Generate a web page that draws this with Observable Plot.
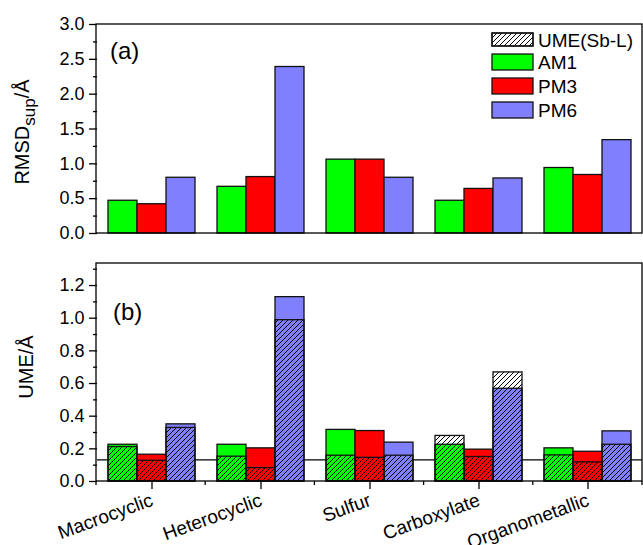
<!DOCTYPE html>
<html><head><meta charset="utf-8">
<script src="https://cdn.jsdelivr.net/npm/d3@7"></script>
<script src="https://cdn.jsdelivr.net/npm/@observablehq/plot@0.6"></script>
<style>
body{margin:0;background:#fff;}
#chart{width:643px;height:545px;position:relative;overflow:hidden;}
#chart svg{display:block;overflow:visible;}
</style></head><body>
<svg width="0" height="0" style="position:absolute">
<defs><pattern id="hatch" patternUnits="userSpaceOnUse" width="5" height="5">
<path d="M-1,1 l2,-2 M0,5 l5,-5 M4,6 l2,-2" stroke="#000" stroke-width="1"/>
</pattern></defs></svg>
<div id="chart"></div>
<script>
// ---- data ----
const categories = ["Macrocyclic","Heterocyclic","Sulfur","Carboxylate","Organometallic"];
const methods = ["AM1","PM3","PM6"];
const methodColors = ["#00ff00","#ff0000","#8080ff"];
const rmsdAM1 = [0.47,0.67,1.06,0.47,0.94];
const rmsdPM3 = [0.42,0.81,1.06,0.64,0.84];
const rmsdPM6 = [0.80,2.39,0.80,0.79,1.34];
const umeAM1 = [0.225,0.225,0.316,0.225,0.203];
const umePM3 = [0.164,0.203,0.309,0.195,0.182];
const umePM6 = [0.350,1.129,0.238,0.568,0.307];
const sblAM1 = [0.211,0.152,0.158,0.279,0.160];
const sblPM3 = [0.127,0.082,0.145,0.150,0.117];
const sblPM6 = [0.328,0.988,0.158,0.668,0.225];
const referenceLine = [0.133];
const rmsdTicks = [0,0.5,1.0,1.5,2.0,2.5,3.0];
const rmsdMinor = [0.25,0.75,1.25,1.75,2.25,2.75];
const umeTicks = [0,0.2,0.4,0.6,0.8,1.0,1.2];
const umeMinor = [0.1,0.3,0.5,0.7,0.9,1.1,1.3];
const legendLabels = ["UME(Sb-L)","AM1","PM3","PM6"];

const rmsdSeries = [rmsdAM1,rmsdPM3,rmsdPM6];
const umeSeries = [umeAM1,umePM3,umePM6];
const sblSeries = [sblAM1,sblPM3,sblPM6];
const rows = [];
categories.forEach((c,i)=>methods.forEach((m,j)=>rows.push({
  category:c, method:m, rmsd:rmsdSeries[j][i], ume:umeSeries[j][i], sbl:sblSeries[j][i]
})));

const font = '"Liberation Sans", Arial, Helvetica, sans-serif';
const W = 643, ML = 96, MR = 1;
const sw = 1.3;
const noText = () => "";

const topH = 243, topMT = 24, topMB = 10;
const topPlot = Plot.plot({
  width:W, height:topH, marginTop:topMT, marginBottom:topMB, marginLeft:ML, marginRight:MR,
  style:{fontFamily:font, fontSize:"18px", color:"#000", background:"transparent"},
  fx:{domain:categories, padding:0, axis:null, label:null},
  x:{domain:methods, paddingInner:0, paddingOuter:0.36, axis:null},
  y:{domain:[0,3], axis:null},
  color:{domain:methods, range:methodColors},
  marks:[
    Plot.barY(rows,{fx:"category", x:"method", y:"rmsd", fill:"method", stroke:"#111", strokeWidth:sw}),
    Plot.axisY(rmsdMinor,{tickSize:4, tickFormat:noText, label:null, strokeWidth:sw}),
    Plot.axisY(rmsdTicks,{tickSize:8, tickPadding:5, tickFormat:d3.format(".1f"), label:null, strokeWidth:sw})
  ]
});

const botH = 302, botMT = 20, botMB = 64;
const yMaxB = 1.335;
const botPlot = Plot.plot({
  width:W, height:botH, marginTop:botMT, marginBottom:botMB, marginLeft:ML, marginRight:MR,
  style:{fontFamily:font, fontSize:"18px", color:"#000", background:"transparent"},
  fx:{domain:categories, padding:0, label:null},
  x:{domain:methods, paddingInner:0, paddingOuter:0.36, axis:null},
  y:{domain:[0,yMaxB], axis:null},
  color:{domain:methods, range:methodColors},
  marks:[
    Plot.ruleY(referenceLine,{stroke:"#000", strokeWidth:1.2}),
    Plot.barY(rows,{fx:"category", x:"method", y:"ume", fill:"method", stroke:"#111", strokeWidth:sw}),
    Plot.barY(rows,{fx:"category", x:"method", y:"sbl", fill:"url(#hatch)", stroke:"#111", strokeWidth:sw}),
    Plot.axisY(umeMinor.filter(v=>v<yMaxB),{tickSize:4, tickFormat:noText, label:null, strokeWidth:sw}),
    Plot.axisY(umeTicks,{tickSize:8, tickPadding:5, tickFormat:d3.format(".1f"), label:null, strokeWidth:sw}),
    Plot.axisFx({anchor:"bottom", tickRotate:-20, tickSize:8, tickPadding:10, label:null, strokeWidth:sw, fontSize:19})
  ]
});

const chart = document.getElementById("chart");
chart.appendChild(topPlot);
chart.appendChild(botPlot);

// frames
function frame(svg, h, mt, mb){
  d3.select(svg).append("rect").attr("x",ML).attr("y",mt).attr("width",W-ML-MR).attr("height",h-mt-mb)
    .attr("fill","none").attr("stroke","#000").attr("stroke-width",sw);
}
frame(topPlot, topH, topMT, topMB);
frame(botPlot, botH, botMT, botMB);

// minor x ticks at category boundaries (bottom panel)
const fxs = botPlot.scale("fx");
const bandStep = (fxs.range[1]-fxs.range[0]) / categories.length;
const yZeroB = botH-botMB;
d3.select(botPlot).append("g").selectAll("line").data(d3.range(categories.length+1)).join("line")
  .attr("x1",i=>fxs.range[0]+i*bandStep).attr("x2",i=>fxs.range[0]+i*bandStep)
  .attr("y1",yZeroB).attr("y2",yZeroB+4).attr("stroke","#000").attr("stroke-width",sw);

// panel labels
function panelLabel(svg, txt, x, y){
  d3.select(svg).append("text").attr("x",x).attr("y",y).attr("font-family",font)
    .attr("text-anchor","start").attr("font-size",24).attr("fill","#000").text(txt);
}
panelLabel(topPlot,"(a)",110,59);
panelLabel(botPlot,"(b)",113,320-243);

// y titles
const t1 = d3.select(topPlot).append("text").attr("transform","translate(29,132) rotate(-90)")
  .attr("text-anchor","middle").attr("font-family",font).attr("font-size",20).attr("fill","#000");
t1.append("tspan").text("RMSD");
t1.append("tspan").attr("dy",6).attr("font-size",17).text("sup");
t1.append("tspan").attr("dy",-6).text("/Å");
d3.select(botPlot).append("text").attr("transform",`translate(33,${367-243}) rotate(-90)`)
  .attr("text-anchor","middle").attr("font-family",font).attr("font-size",20).attr("fill","#000").text("UME/Å");

// legend
const lg = d3.select(topPlot).append("g");
const rowY = [33,54,78,102];
legendLabels.forEach((lab,i)=>{
  const h = i===0 ? 13 : 16;
  lg.append("rect").attr("x",492).attr("y",rowY[i]).attr("width",41).attr("height",h)
    .attr("fill", i===0 ? "#fff" : methodColors[i-1]).attr("stroke","#111").attr("stroke-width",sw);
  if(i===0) lg.append("rect").attr("x",492).attr("y",rowY[i]).attr("width",41).attr("height",h)
    .attr("fill","url(#hatch)").attr("stroke","#111").attr("stroke-width",sw);
  lg.append("text").attr("x",538).attr("y",rowY[i]+(i===0?14:15)).attr("font-family",font)
    .attr("text-anchor","start").attr("font-size",19).attr("fill","#000").text(lab);
});
</script>
</body></html>
